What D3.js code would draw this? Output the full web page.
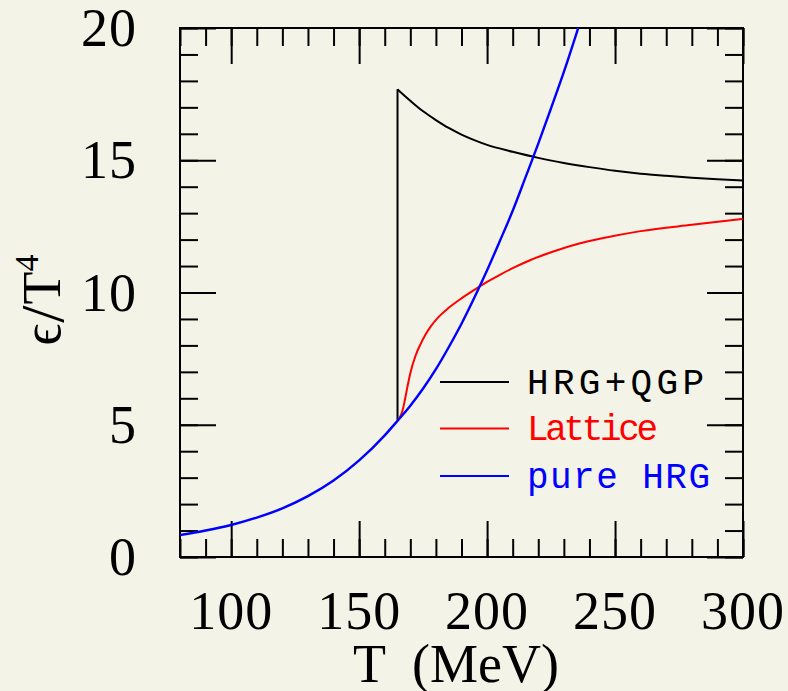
<!DOCTYPE html>
<html>
<head>
<meta charset="utf-8">
<script src="https://cdn.jsdelivr.net/npm/d3@7"></script>
<style>
  html, body { margin: 0; padding: 0; background: #f3f3e7; }
  svg { display: block; }
</style>
</head>
<body>
<svg id="chart" width="788" height="691"></svg>
<script>
// Energy density over T^4 versus temperature
const xTickValues = [100, 150, 200, 250, 300];
const yTickValues = [0, 5, 10, 15, 20];

// pure hadron resonance gas
const hrgT = [80, 90, 100, 110, 120, 130, 140, 150, 160, 165, 170, 175, 180, 185, 190, 195, 200, 205, 210, 215, 220, 225, 230, 235, 240];
const hrgE = [0.83, 1.0, 1.21, 1.49, 1.84, 2.3, 2.89, 3.65, 4.6, 5.15, 5.72, 6.37, 7.1, 7.93, 8.82, 9.8, 10.84, 11.95, 13.09, 14.35, 15.63, 16.97, 18.34, 19.82, 21.36];

// HRG below Tc, QGP above (jump at Tc)
const qgpT = [165, 165, 170, 175, 180, 185, 190, 195, 200, 210, 220, 230, 240, 250, 260, 270, 280, 290, 300];
const qgpE = [5.15, 17.68, 17.25, 16.85, 16.52, 16.22, 15.97, 15.76, 15.58, 15.32, 15.09, 14.9, 14.74, 14.6, 14.49, 14.41, 14.34, 14.28, 14.23];

// lattice parametrisation
const latT = [165, 166, 167, 168, 169, 170, 172, 174, 176, 178, 181, 185, 190, 195, 200, 205, 210, 217, 225, 236, 245, 260, 280, 300];
const latE = [5.15, 5.3, 5.55, 6.0, 6.5, 6.95, 7.6, 8.05, 8.42, 8.72, 9.07, 9.42, 9.78, 10.1, 10.4, 10.67, 10.92, 11.23, 11.52, 11.85, 12.05, 12.32, 12.56, 12.78];

const legendNames = ["HRG+QGP", "Lattice", "pure HRG"];
const legendColors = ["#000000", "#ff0000", "#0000ff"];
const legendWidths = [177, 131, 183];

const svg = d3.select("#chart");
const plotL = 180, plotR = 743, plotT = 28, plotB = 557;

const x = d3.scaleLinear().domain([80, 300]).range([plotL, plotR]);
const y = d3.scaleLinear().domain([0, 20]).range([plotB, plotT]);

const tickStyle = g => g.call(s => s.select(".domain").remove())
  .call(s => s.selectAll(".tick line").attr("stroke", "#000").attr("stroke-width", 2));

const xMinor = d3.range(80, 301, 10);
const xMajor = d3.range(100, 301, 50);
const yMinor = d3.range(0, 21, 1);
const yMajor = d3.range(0, 21, 5);

function axes(gen, vals, size, tr) {
  svg.append("g").attr("transform", tr)
    .call(gen.tickValues(vals).tickSize(size).tickFormat(""))
    .call(tickStyle);
}
// inward ticks on all four sides
axes(d3.axisBottom(x), xMinor, -18, `translate(0,${plotB})`);
axes(d3.axisBottom(x), xMajor, -36, `translate(0,${plotB})`);
axes(d3.axisTop(x), xMinor, -18, `translate(0,${plotT})`);
axes(d3.axisTop(x), xMajor, -36, `translate(0,${plotT})`);
axes(d3.axisLeft(y), yMinor, -18, `translate(${plotL},0)`);
axes(d3.axisLeft(y), yMajor, -36, `translate(${plotL},0)`);
axes(d3.axisRight(y), yMinor, -18, `translate(${plotR},0)`);
axes(d3.axisRight(y), yMajor, -36, `translate(${plotR},0)`);

svg.append("rect")
  .attr("x", plotL).attr("y", plotT)
  .attr("width", plotR - plotL).attr("height", plotB - plotT)
  .attr("fill", "none").attr("stroke", "#000").attr("stroke-width", 2);

const serif = "'Liberation Serif', 'DejaVu Serif', serif";

svg.append("g").selectAll("text").data(xTickValues).join("text")
  .attr("x", d => x(d)).attr("y", 629)
  .attr("text-anchor", "middle")
  .attr("font-family", serif).attr("font-size", 54)
  .attr("letter-spacing", 1)
  .text(d => d);

svg.append("g").selectAll("text").data(yTickValues).join("text")
  .attr("x", 137).attr("y", d => y(d) + 18)
  .attr("text-anchor", "end")
  .attr("font-family", serif).attr("font-size", 54)
  .attr("letter-spacing", 1)
  .text(d => d);

svg.append("text")
  .attr("x", 456).attr("y", 682)
  .attr("text-anchor", "middle")
  .attr("font-family", serif).attr("font-size", 54)
  .style("white-space", "pre")
  .text("T  (MeV)");

const yTitle = svg.append("text")
  .attr("transform", "translate(60,300) rotate(-90)")
  .attr("text-anchor", "middle")
  .attr("font-family", serif).attr("font-size", 54);
yTitle.append("tspan").text("ϵ");
yTitle.append("tspan").attr("dx", 1).attr("font-size", 62).attr("dy", 3).text("/");
yTitle.append("tspan").attr("dx", 1).attr("dy", -3).text("T");
yTitle.append("tspan").attr("font-size", 34).attr("dy", -22).text("4");

svg.append("clipPath").attr("id", "plotClip")
  .append("rect").attr("x", plotL).attr("y", plotT)
  .attr("width", plotR - plotL).attr("height", plotB - plotT);

const plot = svg.append("g").attr("clip-path", "url(#plotClip)");

const lineSmooth = d3.line().x(d => x(d[0])).y(d => y(d[1])).curve(d3.curveMonotoneX);
const lineStraight = d3.line().x(d => x(d[0])).y(d => y(d[1]));

const qgp = qgpT.map((t, i) => [t, qgpE[i]]);
plot.append("path").attr("d", lineStraight(qgp.slice(0, 2)))
  .attr("fill", "none").attr("stroke", "#000").attr("stroke-width", 2);
plot.append("path").attr("d", lineSmooth(qgp.slice(1)))
  .attr("fill", "none").attr("stroke", "#000").attr("stroke-width", 2);

plot.append("path").attr("d", lineSmooth(latT.map((t, i) => [t, latE[i]])))
  .attr("fill", "none").attr("stroke", "#ff0000").attr("stroke-width", 2);

plot.append("path").attr("d", lineSmooth(hrgT.map((t, i) => [t, hrgE[i]])))
  .attr("fill", "none").attr("stroke", "#0000ff").attr("stroke-width", 2.4);

// legend
const legend = svg.append("g");
const legY = [382, 428.5, 476];
legendNames.forEach((name, i) => {
  legend.append("line")
    .attr("x1", 440).attr("x2", 509)
    .attr("y1", legY[i]).attr("y2", legY[i])
    .attr("stroke", legendColors[i]).attr("stroke-width", 2);
  legend.append("text")
    .attr("x", 527).attr("y", legY[i] + 11.5)
    .attr("font-family", "'Liberation Mono', 'DejaVu Sans Mono', monospace")
    .attr("font-size", 36)
    .attr("textLength", legendWidths[i]).attr("lengthAdjust", "spacing")
    .attr("fill", legendColors[i])
    .style("white-space", "pre")
    .text(name);
});
</script>
</body>
</html>
